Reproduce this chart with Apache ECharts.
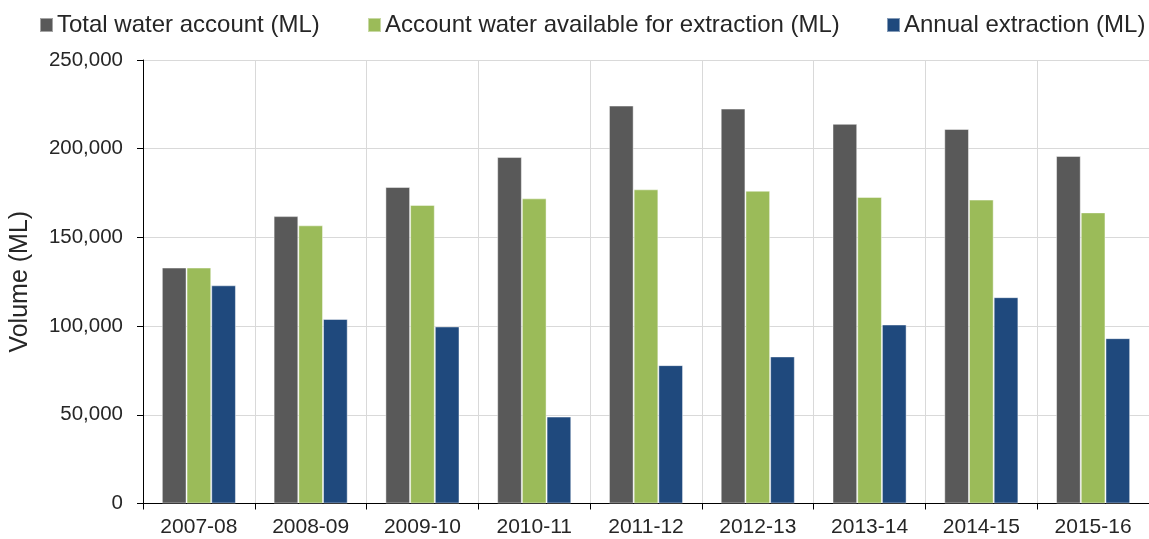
<!DOCTYPE html>
<html>
<head>
<meta charset="utf-8">
<script src="https://cdn.jsdelivr.net/npm/echarts@6/dist/echarts.min.js"></script>
<style>
  html, body { margin: 0; padding: 0; background: #fff; }
  #chart { width: 1149px; height: 539px; }
</style>
</head>
<body>
<div id="chart"></div>
<script>
// values (ML)
var years = ["2007-08", "2008-09", "2009-10", "2010-11", "2011-12",
             "2012-13", "2013-14", "2014-15", "2015-16"];
var totalAccount = [133000, 162000, 178400, 195300, 224300, 222600, 214000, 211100, 195900];
var availableForExtraction = [133000, 156800, 168300, 172000, 177100, 176300, 172800, 171300, 164100];
var annualExtraction = [123000, 104000, 99800, 49000, 78000, 82900, 100900, 116300, 93200];

var seriesNames = [
    "Total water account (ML)",
    "Account water available for extraction (ML)",
    "Annual extraction (ML)"
];
var colors = ["#595959", "#9bbb59", "#1f497d"];

var FONT = "'Liberation Sans', Arial, sans-serif";
var TEXT = "#262626";
var GRID = "#d9d9d9";

// one legend per entry, so each can sit where the reference puts it
function legendAt(name, left) {
    return {
        data: [name],
        left: left,
        top: 13,
        icon: "rect",
        itemWidth: 13,
        itemHeight: 14,
        itemGap: 0,
        padding: 0,
        selectedMode: false,
        textStyle: { color: TEXT, fontSize: 24, fontFamily: FONT, padding: [0, 0, 0, -1] }
    };
}

var chart = echarts.init(document.getElementById("chart"), null, { renderer: "canvas" });

chart.setOption({
    animation: false,
    color: colors,
    textStyle: { fontFamily: FONT },
    legend: [
        legendAt(seriesNames[0], 39),
        legendAt(seriesNames[1], 367),
        legendAt(seriesNames[2], 886)
    ],
    grid: { left: 142, top: 60, width: 1011, bottom: 35.5, containLabel: false },
    xAxis: {
        type: "category",
        data: years,
        axisLine: { lineStyle: { color: "#000", width: 1 } },
        axisTick: { show: true, length: 6, lineStyle: { color: "#000" } },
        axisLabel: { color: TEXT, fontSize: 21, fontFamily: FONT, margin: 13 },
        splitLine: { show: true, lineStyle: { color: GRID, width: 1 } }
    },
    yAxis: {
        type: "value",
        min: 0,
        max: 250000,
        interval: 50000,
        name: "Volume (ML)",
        nameLocation: "middle",
        nameGap: 110,
        nameTextStyle: { color: TEXT, fontSize: 25, fontFamily: FONT },
        axisLine: { show: true, lineStyle: { color: "#000", width: 1 } },
        axisTick: { show: true, length: 6, lineStyle: { color: "#000" } },
        axisLabel: {
            color: TEXT, fontSize: 20.5, fontFamily: FONT, margin: 20,
            formatter: function (v) { return v.toLocaleString("en-US"); }
        },
        splitLine: { show: true, lineStyle: { color: GRID, width: 1 } }
    },
    series: [
        { name: seriesNames[0], type: "bar", data: totalAccount },
        { name: seriesNames[1], type: "bar", data: availableForExtraction },
        { name: seriesNames[2], type: "bar", data: annualExtraction }
    ].map(function (s) {
        s.barWidth = 24.7;
        s.barGap = "0%";
        s.itemStyle = { borderColor: "rgba(255,255,255,0.45)", borderWidth: 1 };
        return s;
    })
});
</script>
</body>
</html>
